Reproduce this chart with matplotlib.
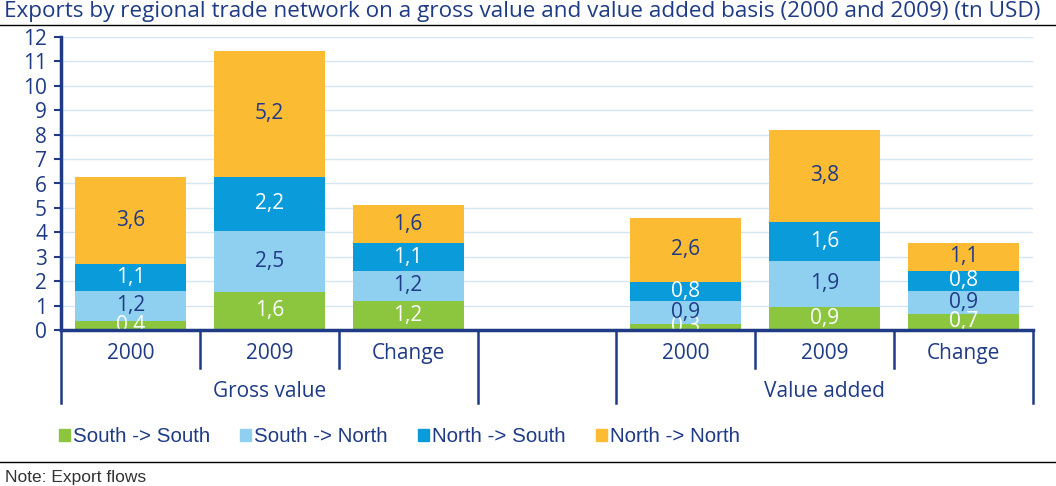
import numpy as np
import matplotlib
matplotlib.use("Agg")
import matplotlib.pyplot as plt
from matplotlib.patches import Patch

plt.rcParams['font.family'] = ['Open Sans', 'DejaVu Sans']
narrow = ['Liberation Sans Narrow', 'Liberation Sans', 'DejaVu Sans']

# data (tn USD)
categories = ['2000', '2009', 'Change', '', '2000', '2009', 'Change']
groups = ['Gross value', 'Value added']
series = ['South -> South', 'South -> North', 'North -> South', 'North -> North']
south_south = [0.37, 1.56, 1.19, np.nan, 0.26, 0.94, 0.66]
south_north = [1.24, 2.50, 1.23, np.nan, 0.93, 1.89, 0.94]
north_south = [1.11, 2.21, 1.13, np.nan, 0.78, 1.60, 0.82]
north_north = [3.56, 5.16, 1.55, np.nan, 2.63, 3.77, 1.14]

colors = ['#8cc63e', '#8fd0f1', '#0a9bdb', '#fbbb32']
label_colors = ['white', '#1f3b86', 'white', '#1f3b86']
navy = '#1f3b86'

fig = plt.figure(figsize=(10.56, 4.86), dpi=100)
ax = fig.add_axes([61/1056, 1-330/486, (1033-61)/1056, (330-37)/486])

x = np.arange(len(categories))
bottom = np.zeros(len(categories))
for vals, c, lc in zip([south_south, south_north, north_south, north_north], colors, label_colors):
    v = np.array(vals, dtype=float)
    ax.bar(x, np.nan_to_num(v), bottom=bottom, width=0.8, color=c, zorder=2)
    for xi, vi, bi in zip(x, v, bottom):
        if np.isnan(vi):
            continue
        ax.text(xi, bi + vi/2, ('%.1f' % vi).replace('.', ','), ha='center', va='center',
                color=lc, fontsize=15, zorder=3)
    bottom = bottom + np.nan_to_num(v)

ax.set_xlim(-0.5, len(categories)-0.5)
ax.set_ylim(0, 12)
ax.set_yticks(range(0, 13))
ax.tick_params(axis='y', colors=navy, labelsize=15, length=5, width=1.5, pad=5)
ax.set_xticks([])
ax.grid(axis='y', color='#d5e6f3', lw=1, zorder=0)
for s in ['top', 'right']:
    ax.spines[s].set_visible(False)
for s in ['left', 'bottom']:
    ax.spines[s].set_color(navy)
    ax.spines[s].set_linewidth(2.5)
ax.spines['bottom'].set_zorder(4)

# category axis below
trans = ax.get_xaxis_transform()
for i in range(len(categories)+1):
    xb = i - 0.5
    long_line = i in (0, 3, 4, 7)
    ax.plot([xb, xb], [0, -0.13 if not long_line else -0.25], transform=trans,
            color=navy, lw=1.8, clip_on=False)
for xi, c in zip(x, categories):
    ax.text(xi, -0.08, c, transform=trans, ha='center', va='center', color=navy, fontsize=15)
ax.text(1, -0.21, groups[0], transform=trans, ha='center', va='center', color=navy, fontsize=15)
ax.text(5, -0.21, groups[1], transform=trans, ha='center', va='center', color=navy, fontsize=15)

# title and rules
fig.text(4/1056, 1-12/486, 'Exports by regional trade network on a gross value and value added basis (2000 and 2009) (tn USD)',
         ha='left', va='center', color=navy, fontsize=16.2)
fig.add_artist(plt.Line2D([0, 1], [1-25/486, 1-25/486], color='black', lw=1))
fig.add_artist(plt.Line2D([0, 1], [1-462/486, 1-462/486], color='black', lw=1))

handles = [Patch(color=c, label=s) for c, s in zip(colors, series)]
fig.legend(handles=handles, loc='center left', bbox_to_anchor=(40/1056, 1-437/486), ncol=4,
           frameon=False, prop={'family': narrow, 'size': 14.8}, handlelength=0.55, handleheight=0.55,
           handletextpad=0.15, columnspacing=1.45, labelcolor=navy)

fig.text(5/1056, 1-477/486, 'Note: Export flows', ha='left', va='center', color='#333333',
         fontsize=12.5, family=narrow)

fig.savefig('out.png', dpi=100)
